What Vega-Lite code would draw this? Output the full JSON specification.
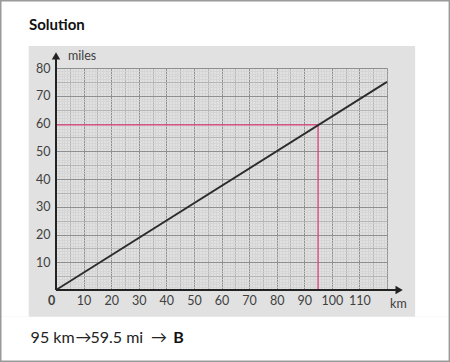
{
  "$schema": "https://vega.github.io/schema/vega-lite/v6.json",
  "width": 331,
  "height": 222,
  "autosize": "none",
  "padding": {"left": 56, "top": 68, "right": 63, "bottom": 72},
  "background": "#e1e1e1",
  "config": {"view": {"stroke": null}, "font": "Lato"},
  "encoding": {
    "x": {
      "field": "x", "type": "quantitative",
      "scale": {"domain": [0, 120], "nice": false, "zero": false},
      "axis": {
        "title": null, "grid": true, "domain": false, "ticks": false,
        "values": [0,1,2,3,4,5,6,7,8,9,10,11,12,13,14,15,16,17,18,19,20,21,22,23,24,25,26,27,28,29,30,31,32,33,34,35,36,37,38,39,40,41,42,43,44,45,46,47,48,49,50,51,52,53,54,55,56,57,58,59,60,61,62,63,64,65,66,67,68,69,70,71,72,73,74,75,76,77,78,79,80,81,82,83,84,85,86,87,88,89,90,91,92,93,94,95,96,97,98,99,100,101,102,103,104,105,106,107,108,109,110,111,112,113,114,115,116,117,118,119,120],
        "labelExpr": "datum.value % 10 === 0 && datum.value < 120 ? datum.label : ''",
        "labelOverlap": false, "labelFlush": false,
        "labelPadding": 4, "labelFontSize": 12.5, "labelColor": "#404040", "labelFont": "Lato",
        "labelFontWeight": {"condition": {"test": "datum.value === 0", "value": "bold"}, "value": "normal"},
        "labelOffset": {"condition": {"test": "datum.value === 0", "value": -5}, "value": 0},
        "gridColor": {"condition": [{"test": "datum.value % 10 === 0", "value": "#8f8f8f"}, {"test": "datum.value % 5 === 0", "value": "#b6b6b6"}], "value": "#d3d3d3"},
        "gridWidth": {"condition": {"test": "datum.value % 5 === 0", "value": 1}, "value": 0.8}
      }
    },
    "y": {
      "field": "y", "type": "quantitative",
      "scale": {"domain": [0, 80], "nice": false, "zero": false},
      "axis": {
        "title": null, "grid": true, "domain": false, "ticks": false,
        "values": [0,1,2,3,4,5,6,7,8,9,10,11,12,13,14,15,16,17,18,19,20,21,22,23,24,25,26,27,28,29,30,31,32,33,34,35,36,37,38,39,40,41,42,43,44,45,46,47,48,49,50,51,52,53,54,55,56,57,58,59,60,61,62,63,64,65,66,67,68,69,70,71,72,73,74,75,76,77,78,79,80],
        "labelExpr": "datum.value % 10 === 0 && datum.value > 0 ? datum.label : ''",
        "labelOverlap": false, "labelFlush": false,
        "labelPadding": 6, "labelFontSize": 12.5, "labelColor": "#404040", "labelFont": "Lato",
        "gridColor": {"condition": [{"test": "datum.value % 10 === 0", "value": "#8f8f8f"}, {"test": "datum.value % 5 === 0", "value": "#b6b6b6"}], "value": "#d3d3d3"},
        "gridWidth": {"condition": {"test": "datum.value % 5 === 0", "value": 1}, "value": 0.8}
      }
    }
  },
  "layer": [
    {
      "data": {"values": [
        {"x": -25, "x2": 150, "y": 87.9, "y2": 110},
        {"x": -25, "x2": 150, "y": -30, "y2": -9.6},
        {"x": -25, "x2": -9.9, "y": -9.6, "y2": 87.9},
        {"x": 130.2, "x2": 150, "y": -9.6, "y2": 87.9}
      ]},
      "mark": {"type": "rect", "fill": "#ffffff", "strokeWidth": 0},
      "encoding": {"x2": {"field": "x2"}, "y2": {"field": "y2"}}
    },
    {
      "data": {"values": [{"x": -20.03, "x2": 142.6, "y": 104.2, "y2": -25.7}]},
      "mark": {"type": "rect", "fillOpacity": 0, "stroke": "#9a9a9a", "strokeWidth": 1.5},
      "encoding": {"x2": {"field": "x2"}, "y2": {"field": "y2"}}
    },
    {
      "data": {"values": [
        {"x": 0, "y": 59.5, "x2": 95, "y2": 59.5},
        {"x": 95, "y": 0, "x2": 95, "y2": 59.5}
      ]},
      "mark": {"type": "rule", "color": "#e0457f", "strokeWidth": 1.3},
      "encoding": {"x2": {"field": "x2"}, "y2": {"field": "y2"}}
    },
    {
      "data": {"values": [{"x": 0, "y": 0}, {"x": 120, "y": 75}]},
      "mark": {"type": "line", "color": "#2b2b2b", "strokeWidth": 1.8}
    },
    {
      "data": {"values": [
        {"x": 0, "y": 0, "x2": 124, "y2": 0},
        {"x": 0, "y": 0, "x2": 0, "y2": 84}
      ]},
      "mark": {"type": "rule", "color": "#222222", "strokeWidth": 2},
      "encoding": {"x2": {"field": "x2"}, "y2": {"field": "y2"}}
    },
    {
      "data": {"values": [{"x": 124.4, "y": 0}]},
      "mark": {"type": "point", "shape": "triangle-right", "filled": true, "color": "#222222", "size": 70, "opacity": 1}
    },
    {
      "data": {"values": [{"x": 0, "y": 84.4}]},
      "mark": {"type": "point", "shape": "triangle-up", "filled": true, "color": "#222222", "size": 70, "opacity": 1}
    },
    {
      "data": {"values": [{"x": -9.8, "y": 93.7, "t": "Solution"}]},
      "mark": {"type": "text", "align": "left", "baseline": "alphabetic", "fontSize": 15, "fontWeight": "bold", "color": "#111111", "font": "Lato"},
      "encoding": {"text": {"field": "t"}}
    },
    {
      "data": {"values": [{"x": 4.35, "y": 82.9, "t": "miles"}, {"x": 121.1, "y": -6.4, "t": "km"}]},
      "mark": {"type": "text", "align": "left", "baseline": "alphabetic", "fontSize": 12.5, "color": "#404040", "font": "Lato"},
      "encoding": {"text": {"field": "t"}}
    },
    {
      "data": {"values": [
        {"x": -9.2, "y": -19.2, "t": "95 km"},
        {"x": 7.1, "y": -19.2, "t": "→"},
        {"x": 12.5, "y": -19.2, "t": "59.5 mi"},
        {"x": 34.4, "y": -19.2, "t": "→"}
      ]},
      "mark": {"type": "text", "align": "left", "baseline": "alphabetic", "fontSize": 16, "color": "#222222", "font": "Lato"},
      "encoding": {"text": {"field": "t"}}
    },
    {
      "data": {"values": [{"x": 42.5, "y": -19.2, "t": "B"}]},
      "mark": {"type": "text", "align": "left", "baseline": "alphabetic", "fontSize": 16, "fontWeight": "bold", "color": "#111111", "font": "Lato"},
      "encoding": {"text": {"field": "t"}}
    }
  ]
}
